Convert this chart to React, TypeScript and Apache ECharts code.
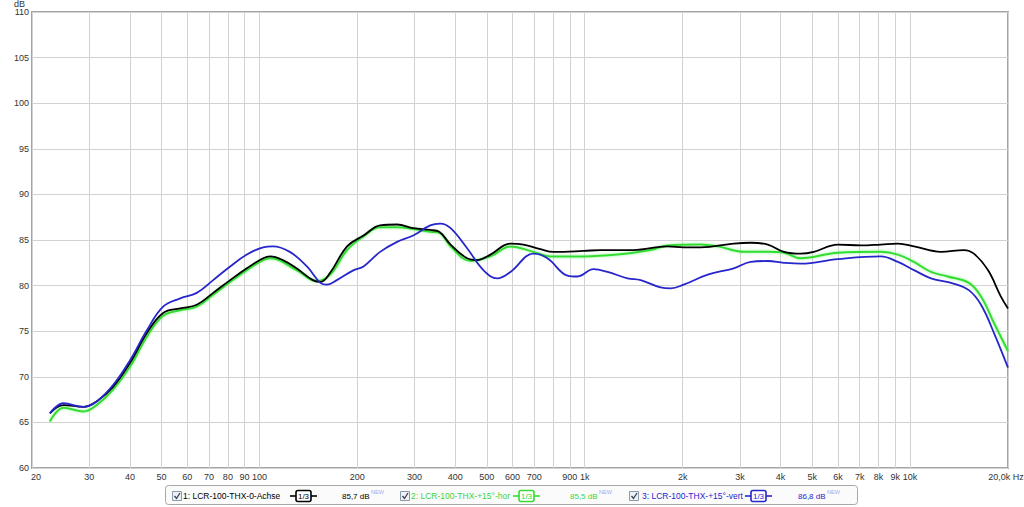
import React, { useEffect, useRef } from "react";
import * as echarts from "echarts";

// Frequency (Hz) / level (dB) pairs
const achse: [number, number][] = [
  [22.7, 66.0], [25, 66.9], [28.8, 66.7], [31.6, 67.3], [35.5, 68.9], [40, 71.5], [45.1, 74.8],
  [50.6, 77.0], [57.1, 77.5], [64.2, 77.9], [72.1, 79.2], [81.3, 80.6], [91.5, 81.9], [102.7, 83.0],
  [108, 83.2], [118, 82.8], [130, 81.9], [146, 80.6], [154, 80.4], [165, 81.4], [186, 84.3],
  [209, 85.5], [235, 86.6], [265, 86.7], [297, 86.3], [335, 86.1], [357, 85.9], [387, 84.5],
  [435, 83.0], [467, 82.8], [513, 83.4], [591, 84.6], [648, 84.5], [731, 84.0], [802, 83.7],
  [991, 83.8], [1118, 83.9], [1413, 83.9], [1798, 84.3], [2014, 84.2], [2272, 84.2], [2870, 84.6],
  [3238, 84.7], [3653, 84.5], [4093, 83.7], [4614, 83.5], [5060, 83.7], [6000, 84.5], [7064, 84.4],
  [8129, 84.5], [9174, 84.6], [10280, 84.3], [12445, 83.7], [14640, 83.9], [15708, 83.5],
  [17350, 81.7], [19020, 78.8], [20000, 77.5],
];

const hor: [number, number][] = [
  [22.7, 65.1], [25, 66.6], [28.8, 66.2], [31.6, 66.9], [35.5, 68.6], [40, 71.1], [45.1, 74.4],
  [50.6, 76.7], [57.1, 77.3], [64.2, 77.7], [72.1, 79.0], [81.3, 80.4], [91.5, 81.7], [102.7, 82.8],
  [108, 83.0], [130, 81.7], [150, 80.5], [165, 81.2], [186, 83.9], [209, 85.4], [235, 86.4],
  [265, 86.4], [297, 86.2], [335, 85.9], [357, 85.8], [387, 84.3], [447, 82.7], [513, 83.2],
  [591, 84.3], [696, 83.7], [784, 83.2], [991, 83.2], [1262, 83.4], [1594, 83.9], [1798, 84.4],
  [2272, 84.5], [2564, 84.3], [3082, 83.7], [3653, 83.7], [4093, 83.6], [4614, 83.0], [6000, 83.6],
  [8129, 83.7], [9174, 83.4], [10280, 82.6], [11590, 81.5], [13050, 81.0], [15160, 80.3],
  [16520, 78.8], [18114, 75.9], [20000, 72.8],
];

const vert: [number, number][] = [
  [22.7, 66.0], [25, 67.1], [28.8, 66.7], [31.6, 67.3], [35.5, 69.1], [40, 71.8], [45.1, 75.1],
  [50.6, 77.7], [57.1, 78.6], [64.2, 79.2], [72.1, 80.6], [81.3, 82.1], [91.5, 83.4], [102.7, 84.2],
  [110, 84.3], [124, 83.7], [140, 82.1], [154, 80.3], [161, 80.1], [173, 80.6], [195, 81.7],
  [209, 82.1], [235, 83.7], [265, 84.8], [297, 85.5], [335, 86.6], [360, 86.8], [387, 86.3],
  [435, 84.1], [488, 81.7], [539, 80.8], [591, 81.5], [696, 83.5], [768, 83.0], [885, 81.1],
  [950, 81.0], [1064, 81.8], [1175, 81.5], [1354, 80.8], [1486, 80.6], [1710, 79.8], [1837, 79.7],
  [2014, 80.1], [2388, 81.2], [2870, 81.9], [3238, 82.6], [3653, 82.7], [4093, 82.5], [4614, 82.4],
  [6000, 82.9], [8129, 83.2], [9174, 82.6], [10280, 81.7], [11590, 80.8], [13676, 80.2],
  [15160, 79.5], [16520, 77.9], [18114, 74.8], [20000, 71.0],
];

const freqTicks = [20, 30, 40, 50, 60, 70, 80, 90, 100, 200, 300, 400, 500, 600, 700, 800, 900,
  1000, 2000, 3000, 4000, 5000, 6000, 7000, 8000, 9000, 10000, 20000];
const freqLabels = ["20", "30", "40", "50", "60", "70", "80", "90", "100", "200", "300", "400", "500",
  "600", "700", "", "900", "1k", "2k", "3k", "4k", "5k", "6k", "7k", "8k", "9k", "10k", "20,0k Hz"];

const seriesNames = ["1: LCR-100-THX-0-Achse", "2: LCR-100-THX-+15°-hor", "3: LCR-100-THX-+15°-vert"];
const seriesLevels = ["85,7 dB", "85,5 dB", "86,8 dB"];
const seriesColors = ["#000000", "#33dd33", "#2626cc"];

const FONT = "'Liberation Sans', Arial, sans-serif";

function legendEntry(i: number, cbX: number, textX: number, iconX: number, valX: number, newX: number) {
  const c = seriesColors[i];
  const tc = c === "#33dd33" ? "#3cd43c" : c;
  const cy = 496;
  return [
    { type: "rect", shape: { x: cbX + 0.5, y: cy - 4.5, width: 9, height: 9 },
      style: { fill: "#eef2f6", stroke: "#8c9aa8", lineWidth: 1 } },
    { type: "polyline", shape: { points: [[cbX + 2.5, cy], [cbX + 4.5, cy + 2.5], [cbX + 8, cy - 3]] },
      style: { stroke: "#33404c", lineWidth: 1.3, fill: null } },
    { type: "text", x: textX, y: cy, style: { text: seriesNames[i], fill: tc,
      font: `8.5px ${FONT}`, textVerticalAlign: "middle" } },
    { type: "line", shape: { x1: iconX, y1: cy, x2: iconX + 27, y2: cy }, style: { stroke: c, lineWidth: 1.6 } },
    { type: "rect", shape: { x: iconX + 6, y: cy - 5.5, width: 15, height: 11, r: 2 },
      style: { fill: "#ffffff", stroke: c, lineWidth: 1.6 } },
    { type: "text", x: iconX + 13.5, y: cy + 0.5, style: { text: "1/3", fill: c, font: `8px ${FONT}`,
      textAlign: "center", textVerticalAlign: "middle" } },
    { type: "text", x: valX, y: cy, style: { text: seriesLevels[i], fill: tc,
      font: `8px ${FONT}`, textVerticalAlign: "middle" } },
    { type: "text", x: newX, y: cy - 4, style: { text: "NEW", fill: "#a4a8f0", font: `5.5px ${FONT}`,
      textVerticalAlign: "middle" } },
  ];
}

export default function App() {
  const ref = useRef<HTMLDivElement>(null);
  useEffect(() => {
    if (!ref.current) return;
    const chart = echarts.init(ref.current, null, { renderer: "svg" });
    const seriesData = [achse, hor, vert];
    const drawOrder = [1, 0, 2];
    const series: any[] = drawOrder.map((idx) => ({
      type: "line",
      name: seriesNames[idx],
      data: seriesData[idx],
      smooth: 0.4,
      symbol: "none",
      z: 2 + drawOrder.indexOf(idx),
      lineStyle: idx === 1
        ? { color: seriesColors[idx], width: 2, shadowColor: "rgba(120,240,120,0.8)", shadowBlur: 3 }
        : { color: seriesColors[idx], width: 1.8 },
    }));
    series.push({
      type: "line",
      data: [],
      symbol: "none",
      z: 1,
      markLine: {
        silent: true,
        z: 1,
        symbol: ["none", "none"],
        animation: false,
        lineStyle: { color: "#d2d2d2", width: 1, type: "solid" },
        label: { show: true, position: "start", color: "#333", fontSize: 9, fontFamily: FONT, distance: 4 },
        data: freqTicks.map((f, i) => {
          const lab = freqLabels[i];
          const item: any = { xAxis: f, label: { formatter: lab, show: lab !== "" } };
          if (f === 20) item.label.padding = [0, 0, 0, 8];
          if (f === 20000) item.label.padding = [0, 4, 0, 0];
          return item;
        }),
      },
    });
    chart.setOption({
      animation: false,
      grid: { left: 32, right: 16, top: 12, bottom: 39, show: true, borderColor: "#a4a4a4", borderWidth: 2,
        backgroundColor: "#ffffff" },
      xAxis: {
        type: "log", logBase: 10, min: 20, max: 20000,
        axisLine: { show: false }, axisTick: { show: false }, axisLabel: { show: false },
        splitLine: { show: false },
      },
      yAxis: {
        type: "value", min: 60, max: 110, interval: 5,
        axisLine: { show: false }, axisTick: { show: false },
        axisLabel: { color: "#333", fontSize: 9, fontFamily: FONT, margin: 3 },
        splitLine: { lineStyle: { color: "#d2d2d2", width: 1 } },
      },
      graphic: [
        { type: "text", x: 14, y: 4, style: { text: "dB", fill: "#333", font: `9px ${FONT}`,
          textVerticalAlign: "middle" } },
        { type: "rect", shape: { x: 165.5, y: 485.5, width: 692, height: 19, r: 3 },
          style: { fill: "#fbfbfb", stroke: "#a8a8a8", lineWidth: 1 } },
        ...legendEntry(0, 172, 183, 290, 342, 371),
        ...legendEntry(1, 400, 411, 513, 570, 599),
        ...legendEntry(2, 629, 642, 745, 798, 827),
      ],
      series,
    });
    return () => chart.dispose();
  }, []);
  return (
    <div ref={ref} style={{ position: "fixed", left: 0, top: 0, width: 1024, height: 507, background: "#fff" }} />
  );
}
